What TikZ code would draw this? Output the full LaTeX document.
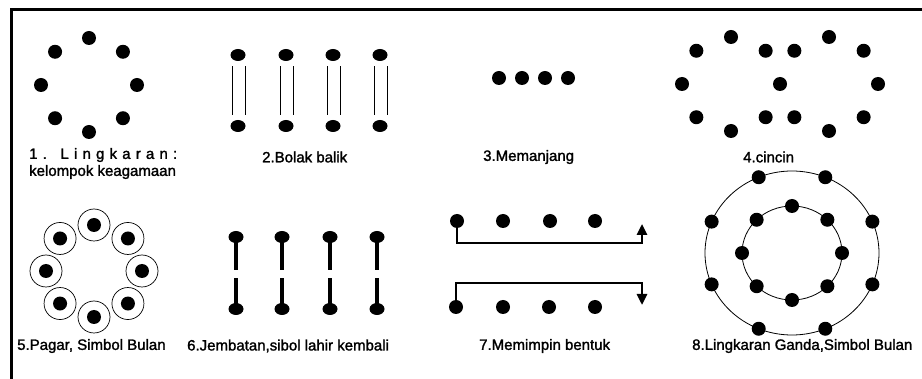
\documentclass[tikz,border=0pt]{standalone}
\usepackage{fontspec}
\setmainfont{Liberation Sans}
\newfontfamily\lblfont[FakeBold=1.6]{Liberation Sans}
\usetikzlibrary{shapes.geometric,calc,arrows.meta}

\begin{document}
\begin{tikzpicture}[x=1pt,y=-1pt,
  dot/.style={circle,fill=black,inner sep=0pt,minimum size=14pt},
  edot/.style={ellipse,fill=black,inner sep=0pt,minimum width=15pt,minimum height=12pt},
  halo/.style={circle,draw=black,line width=0.7pt,inner sep=0pt,minimum size=32pt},
  orbit/.style={ellipse,draw=black,line width=0.8pt,inner sep=0pt},
  lbl/.style={inner sep=0pt,anchor=west,font=\lblfont\fontsize{15}{17}\selectfont},
  frame/.style={line width=3pt},
  rail/.style={line width=0.7pt,shorten <=5pt,shorten >=5pt},
  stem/.style={line width=3.5pt},
  track/.style={line width=2.6pt,-{Triangle[length=11pt,width=10pt]}},
]
\useasboundingbox (0,0) rectangle (922,379);

% outer frame: top and left rules only
\draw[frame] (11,379) -- (11,10) -- (922,10);

% 1. circle of eight
\foreach \a [count=\i] in {0,45,...,315}
  \node[dot] (c1-\i) at ($(89,85)+(\a:48 and 47)$) {};
\node[lbl] (t1a) at (29,155) {\makebox[148pt][s]{1 .\hspace{5pt} L i n g k a r a n :}};
\node[lbl] (t1b) at (29,172) {kelompok keagamaan};

% 2. facing pairs joined by double rails
\foreach \x [count=\i] in {238,286,333,380} {
  \node[edot] (u2-\i) at (\x,55) {};
  \node[edot] (d2-\i) at (\x,126) {};
  \draw[rail] ([xshift=-6pt]u2-\i.south) -- ([xshift=-6pt]d2-\i.north);
  \draw[rail] ([xshift=7pt]u2-\i.south) -- ([xshift=7pt]d2-\i.north);
}
\node[lbl] (t2) at (262,157) {2.Bolak balik};

% 3. single file
\foreach \x [count=\i] in {499,522,545,568}
  \node[dot] (r3-\i) at (\x,78) {};
\node[lbl] (t3) at (483,157) {3.Memanjang};

% 4. two linked rings sharing one dot
\foreach \a [count=\i] in {0,45,...,315}
  \node[dot] (l4-\i) at ($(731,84)+(\a:49 and 47)$) {};
\foreach \a [count=\i] in {0,45,90,135,225,270,315}
  \node[dot] (k4-\i) at ($(829,84)+(\a:49 and 47)$) {};
\node[lbl] (t4) at (743,157) {4.cincin};

% 5. fenced ring
\foreach \a [count=\i] in {0,45,...,315} {
  \node[halo] (h5-\i) at ($(94,271)+(\a:48 and 46)$) {};
  \node[dot] (p5-\i) at (h5-\i.center) {};
}
\node[lbl] (t5) at (17,346) {5.Pagar, Simbol Bulan};

% 6. bridges with a gap in the middle
\foreach \x [count=\i] in {236,282,330,377} {
  \node[edot] (u6-\i) at (\x,237) {};
  \node[edot] (d6-\i) at (\x,309) {};
  \draw[stem] (u6-\i.center) -- ($(u6-\i.center)!0.46!(d6-\i.center)$);
  \draw[stem] ($(u6-\i.center)!0.57!(d6-\i.center)$) -- (d6-\i.center);
}
\node[lbl] (t6) at (187,346) {6.Jembatan,sibol lahir kembali};

% 7. two rows with leading paths
\foreach \x [count=\i] in {457,503,550,595}
  \node[dot] (a7-\i) at (\x,221) {};
\foreach \x [count=\i] in {456,503,549,595}
  \node[dot] (b7-\i) at (\x,307) {};
\coordinate (ta) at (642,243);
\coordinate (te) at (642,224);
\coordinate (ba) at (642,283);
\coordinate (be) at (642,305);
\draw[track] (a7-1.south) |- (ta) -- (te);
\draw[track] (b7-1.north) |- (ba) -- (be);
\node[lbl] (t7) at (479,346) {7.Memimpin bentuk};

% 8. double circle
\node[orbit,minimum width=174pt,minimum height=164pt] (o8) at (792,253) {};
\node[orbit,minimum width=100pt,minimum height=94pt] (i8) at (792,253) {};
\foreach \a [count=\i] in {22.5,67.5,...,337.5}
  \node[dot] (s8-\i) at ($(o8.center)+(\a:87 and 82)$) {};
\foreach \a [count=\i] in {0,45,...,315}
  \node[dot] (n8-\i) at ($(i8.center)+(\a:50 and 47)$) {};
\node[lbl] (t8) at (692,346) {8.Lingkaran Ganda,Simbol Bulan};
\end{tikzpicture}
\end{document}
